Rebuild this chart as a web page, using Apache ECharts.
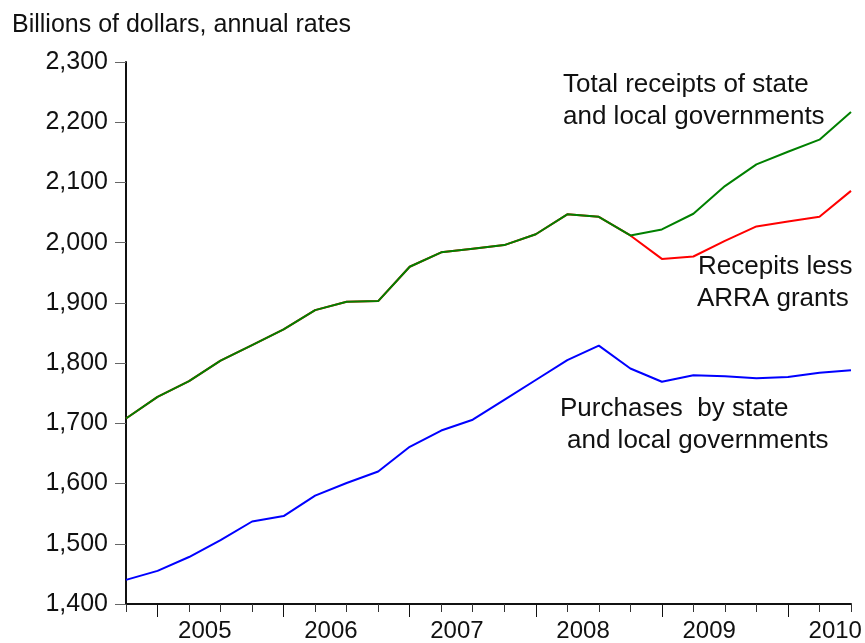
<!DOCTYPE html>
<html>
<head>
<meta charset="utf-8">
<script src="https://cdn.jsdelivr.net/npm/echarts@6/dist/echarts.min.js"></script>
<style>
  html, body { margin: 0; padding: 0; background: #fff; }
  #chart { width: 865px; height: 643px; }
</style>
</head>
<body>
<div id="chart"></div>
<script>
// quarterly observations, 2004Q4 - 2010Q3
var quarters = ['2004Q4',
    '2005Q1', '2005Q2', '2005Q3', '2005Q4',
    '2006Q1', '2006Q2', '2006Q3', '2006Q4',
    '2007Q1', '2007Q2', '2007Q3', '2007Q4',
    '2008Q1', '2008Q2', '2008Q3', '2008Q4',
    '2009Q1', '2009Q2', '2009Q3', '2009Q4',
    '2010Q1', '2010Q2', '2010Q3'];

// billions of dollars, annual rates
var totalReceipts = [1708, 1744, 1770, 1804, 1830, 1856, 1888, 1902, 1903, 1960, 1984, 1990,
    1996, 2014, 2047, 2043, 2012, 2022, 2048, 2094, 2130, 2151, 2171, 2217];
var receiptsLessArra = [1708, 1744, 1770, 1804, 1830, 1856, 1888, 1902, 1903, 1960, 1984, 1990,
    1996, 2014, 2047, 2043, 2012, 1973, 1977, 2003, 2027, 2035, 2043, 2086];
var purchases = [1440, 1455, 1478, 1506, 1537, 1546, 1580, 1601, 1620, 1661, 1688, 1706,
    1739, 1772, 1805, 1829, 1791, 1769, 1780, 1778, 1775, 1777, 1784, 1788];

var yMin = 1400, yMax = 2300, yStep = 100;

var FONT = '"Liberation Sans", Arial, sans-serif';

function withComma(v) {
    return String(v).replace(/\B(?=(\d{3})+(?!\d))/g, ',');
}

function isQuarter(value, q) {
    return value.slice(-1) === String(q);
}

function note(text, x, y, size) {
    return {
        type: 'text',
        x: x,
        y: y,
        silent: true,
        style: {
            text: text,
            fill: '#111',
            font: (size || 26) + 'px ' + FONT,
            textAlign: 'left',
            textVerticalAlign: 'middle'
        }
    };
}

var chart = echarts.init(document.getElementById('chart'));

var option = {
    animation: false,
    backgroundColor: '#fff',
    textStyle: { fontFamily: FONT },
    grid: { left: 126, right: 14, top: 62, bottom: 39, containLabel: false },
    xAxis: [
        {
            type: 'category',
            data: quarters,
            boundaryGap: false,
            position: 'bottom',
            axisLine: { lineStyle: { color: '#111', width: 2 } },
            axisTick: { show: true, length: 8, interval: 0, lineStyle: { color: '#333', width: 1 } },
            axisLabel: {
                interval: function (i, v) { return isQuarter(v, 2); },
                formatter: function (v) { return v.slice(0, 4); },
                color: '#111',
                fontSize: 24,
                margin: 15,
                padding: [0, 0, 0, 31.5]
            },
            splitLine: { show: false }
        },
        {
            type: 'category',
            data: quarters,
            boundaryGap: false,
            position: 'bottom',
            gridIndex: 0,
            axisLine: { show: false },
            axisTick: {
                show: true,
                length: 13,
                interval: function (i, v) { return isQuarter(v, 1); },
                lineStyle: { color: '#111', width: 1 }
            },
            axisLabel: { show: false },
            splitLine: { show: false }
        }
    ],
    yAxis: {
        type: 'value',
        min: yMin,
        max: yMax,
        interval: yStep,
        axisLine: { show: true, lineStyle: { color: '#111', width: 2 } },
        axisTick: { show: true, length: 11, lineStyle: { color: '#666', width: 1 } },
        axisLabel: {
            color: '#111',
            fontSize: 25,
            margin: 18,
            formatter: withComma
        },
        splitLine: { show: false }
    },
    series: [
        {
            name: 'Recepits less ARRA grants',
            type: 'line',
            data: receiptsLessArra,
            showSymbol: false,
            lineStyle: { color: '#ff0000', width: 2 },
            z: 2
        },
        {
            name: 'Total receipts of state and local governments',
            type: 'line',
            data: totalReceipts,
            showSymbol: false,
            lineStyle: { color: '#008000', width: 2 },
            z: 3
        },
        {
            name: 'Purchases by state and local governments',
            type: 'line',
            data: purchases,
            showSymbol: false,
            lineStyle: { color: '#0000ff', width: 2 },
            z: 3
        }
    ],
    graphic: [
        note('Billions of dollars, annual rates', 12, 25, 25),
        note('Total receipts of state', 563, 85),
        note('and local governments', 563, 117),
        note('Recepits less', 698, 267),
        note('ARRA grants', 697, 299),
        note('Purchases  by state', 560, 409),
        note('and local governments', 567, 441)
    ]
};

chart.setOption(option);
</script>
</body>
</html>
